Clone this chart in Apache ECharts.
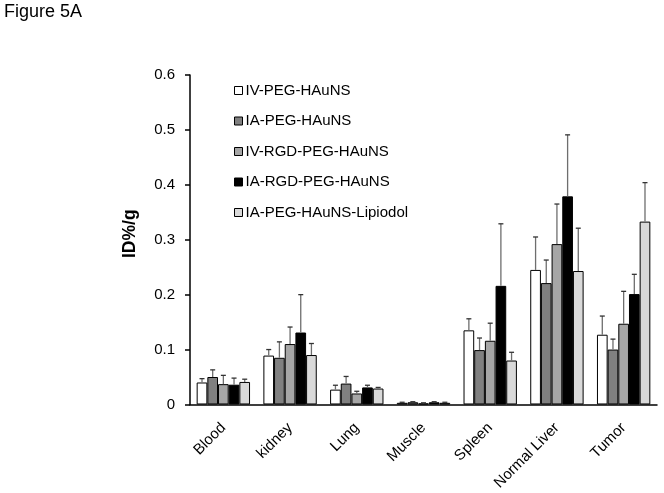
<!DOCTYPE html>
<html>
<head>
<meta charset="utf-8">
<script src="https://cdn.jsdelivr.net/npm/echarts@6/dist/echarts.min.js"></script>
<style>html,body{margin:0;padding:0;background:#fff}#c{width:664px;height:493px}</style>
</head>
<body>
<div id="c"></div>
<script>
var categories = ['Blood', 'kidney', 'Lung', 'Muscle', 'Spleen', 'Normal Liver', 'Tumor'];
var seriesNames = ['IV-PEG-HAuNS', 'IA-PEG-HAuNS', 'IV-RGD-PEG-HAuNS', 'IA-RGD-PEG-HAuNS', 'IA-PEG-HAuNS-Lipiodol'];
var ivPeg      = [0.040, 0.089, 0.027, 0.003, 0.135, 0.245, 0.127];
var iaPeg      = [0.050, 0.085, 0.038, 0.004, 0.099, 0.221, 0.100];
var ivRgd      = [0.037, 0.110, 0.020, 0.002, 0.116, 0.292, 0.147];
var iaRgd      = [0.036, 0.131, 0.031, 0.004, 0.216, 0.379, 0.201];
var iaLip      = [0.041, 0.090, 0.029, 0.003, 0.080, 0.243, 0.333];
var ivPegErr   = [0.007, 0.011, 0.008, 0.001, 0.021, 0.060, 0.034];
var iaPegErr   = [0.013, 0.029, 0.013, 0.001, 0.022, 0.042, 0.019];
var ivRgdErr   = [0.016, 0.031, 0.004, 0.001, 0.032, 0.073, 0.059];
var iaRgdErr   = [0.012, 0.069, 0.004, 0.001, 0.113, 0.112, 0.036];
var iaLipErr   = [0.005, 0.021, 0.002, 0.001, 0.015, 0.078, 0.071];
var yTicks = [0, 0.1, 0.2, 0.3, 0.4, 0.5, 0.6];

var values = [ivPeg, iaPeg, ivRgd, iaRgd, iaLip];
var errors = [ivPegErr, iaPegErr, ivRgdErr, iaRgdErr, iaLipErr];
var colors = ['#ffffff', '#808080', '#a6a6a6', '#000000', '#d9d9d9'];
var barFrac = 0.16;
var FONT = 'Liberation Sans, Arial, sans-serif';

var series = [];
values.forEach(function (vals, i) {
  series.push({
    name: seriesNames[i], type: 'bar', data: vals,
    barWidth: (barFrac * 100) + '%', barGap: '0%',
    itemStyle: { color: colors[i], borderColor: '#000', borderWidth: 1 },
    z: 2
  });
});
values.forEach(function (vals, i) {
  series.push({
    type: 'custom', name: seriesNames[i] + ' err', z: 3,
    data: vals.map(function (v, k) { return [k, v, errors[i][k]]; }),
    renderItem: function (params, api) {
      var k = api.value(0), v = api.value(1), e = api.value(2);
      var band = api.size([1, 0])[0];
      var bw = band * barFrac;
      var c = api.coord([k, v]);
      var top = api.coord([k, v + e]);
      var x = c[0] + (i - 2) * bw;
      return { type: 'group', children: [
        { type: 'line', shape: { x1: x, y1: c[1], x2: x, y2: top[1] }, style: { stroke: '#6e6e6e', lineWidth: 1.3 } },
        { type: 'line', shape: { x1: x - 2.5, y1: top[1], x2: x + 2.5, y2: top[1] }, style: { stroke: '#333', lineWidth: 1.3 } }
      ]};
    }
  });
});

var chart = echarts.init(document.getElementById('c'), null, { renderer: 'canvas' });
chart.setOption({
  animation: false,
  backgroundColor: '#fff',
  textStyle: { fontFamily: FONT },
  title: { text: 'Figure 5A', left: 4, top: 3, padding: 0, textStyle: { fontSize: 18, fontWeight: 'normal', color: '#000', fontFamily: FONT } },
  legend: {
    data: seriesNames, orient: 'vertical', left: 229, top: 77,
    itemWidth: 8, itemHeight: 8, itemGap: 13.5,
    icon: 'rect',
    textStyle: { fontSize: 15, color: '#000', padding: [0, 0, 0, -2], lineHeight: 17, fontFamily: FONT },
    itemStyle: { borderColor: '#000', borderWidth: 1 }
  },
  grid: { left: 190, right: 7, top: 75, bottom: 87 },
  xAxis: {
    type: 'category', data: categories,
    axisLine: { lineStyle: { color: '#000', width: 1.5 } },
    axisTick: { length: 5, lineStyle: { color: '#000', width: 1.5 } },
    axisLabel: { rotate: 45, fontSize: 15, color: '#000', margin: 21, fontFamily: FONT }
  },
  yAxis: {
    type: 'value', min: 0, max: 0.6, interval: 0.1,
    name: 'ID%/g', nameLocation: 'middle', nameGap: 51, nameRotate: 90,
    nameTextStyle: { fontSize: 17.5, fontWeight: 'bold', color: '#000', fontFamily: FONT, padding: [0, 0, 0, 12] },
    axisLine: { show: true, lineStyle: { color: '#000', width: 1.5 } },
    axisTick: { show: true, length: 5, lineStyle: { color: '#000', width: 1.5 } },
    splitLine: { show: false },
    axisLabel: { fontSize: 15, color: '#000', margin: 15, fontFamily: FONT,
      formatter: function (v) { return yTicks.indexOf(Math.round(v * 10) / 10) >= 0 ? (v === 0 ? '0' : v.toFixed(1)) : ''; } }
  },
  series: series
});
</script>
</body>
</html>
